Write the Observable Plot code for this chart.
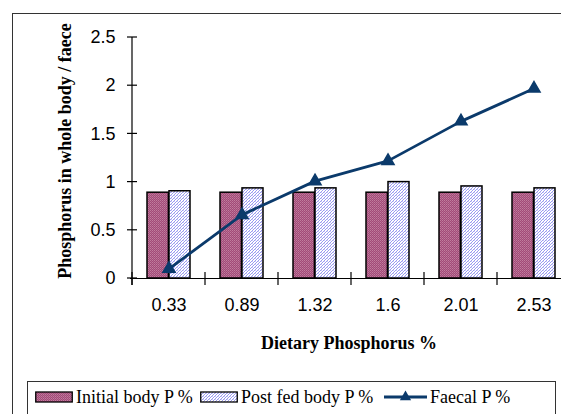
<!DOCTYPE html>
<html>
<head>
<meta charset="utf-8">
<script src="https://cdn.jsdelivr.net/npm/d3@7"></script>
<script src="https://cdn.jsdelivr.net/npm/@observablehq/plot@0.6"></script>
<style>
  html, body { margin: 0; padding: 0; background: #fff; }
  body { width: 561px; height: 414px; overflow: hidden; position: relative; }
  #frame { position: absolute; left: 12px; top: 13px; width: 620px; height: 460px; border: 1.5px solid #333; box-sizing: border-box; }
  #chart { position: absolute; left: 0; top: 0; width: 600px; }
  #chart svg { max-width: none !important; }
  .ytitle { position: absolute; left: 65px; top: 151px; transform: translate(-50%, -50%) rotate(-90deg); white-space: nowrap;
            font: bold 18px "Liberation Serif", "Times New Roman", serif; color: #000; }
  .xtitle { position: absolute; left: 349px; top: 333px; transform: translateX(-50%); white-space: nowrap;
            font: bold 18px "Liberation Serif", "Times New Roman", serif; color: #000; }
  #legend { position: absolute; left: 27px; top: 381px; width: 529px; height: 50px; border: 1px solid #333; box-sizing: border-box;
            font: 18px "Liberation Serif", "Times New Roman", serif; color: #000; }
  .item { position: absolute; top: 0; height: 30px; display: flex; align-items: center; white-space: nowrap; }
  .item svg { margin-right: 3px; }
</style>
</head>
<body>
<div id="frame"></div>
<div id="chart"></div>
<div class="ytitle">Phosphorus in whole body / faece</div>
<div class="xtitle">Dietary Phosphorus %</div>
<div id="legend"></div>
<script>
// ---- data ----
const categories = ["0.33", "0.89", "1.32", "1.6", "2.01", "2.53"];
const initialBody = [0.89, 0.89, 0.89, 0.89, 0.89, 0.89];
const postFedBody = [0.905, 0.935, 0.935, 1.0, 0.955, 0.935];
const faecal = [0.10, 0.66, 1.01, 1.22, 1.63, 1.97];
const yTicks = [0, 0.5, 1, 1.5, 2, 2.5];
const seriesNames = ["Initial body P %", "Post fed body P %", "Faecal P %"];

const rows = categories.map((c, i) => ({cat: c, init: initialBody[i], post: postFedBody[i], faecal: faecal[i]}));
const navy = "#0b3a6b";

// custom axis lines & crossing ticks drawn from the library's scales
function axesMark(index, scales) {
  const x = scales.x, y = scales.y;
  const g = d3.create("svg:g").attr("stroke", "#000").attr("stroke-width", 1.2);
  const x0 = x(categories[0]);
  const y0 = y(0);
  g.append("line").attr("x1", x0).attr("x2", x0).attr("y1", y(yTicks[yTicks.length - 1])).attr("y2", y0 + 7);
  for (const t of yTicks) g.append("line").attr("x1", x0 - 5).attr("x2", x0 + 5).attr("y1", y(t)).attr("y2", y(t));
  for (const c of categories) g.append("line").attr("x1", x(c)).attr("x2", x(c)).attr("y1", y0 - 6).attr("y2", y0 + 7);
  return g.node();
}

const chart = Plot.plot({
  width: 580,
  height: 320,
  marginLeft: 130,
  marginRight: 8,
  marginTop: 37,
  marginBottom: 42,
  style: {fontFamily: '"Liberation Sans", Arial, sans-serif', fontSize: "18px", color: "#000", background: "transparent", overflow: "visible", maxWidth: "none"},
  x: {type: "band", domain: categories, padding: 0, axis: null},
  y: {domain: [0, 2.5], axis: null},
  marks: [
    Plot.barY(rows, {x: "cat", y: "init", fill: "url(#patInit)", stroke: "#000", strokeWidth: 1.5, insetLeft: 15, insetRight: 36.6}),
    Plot.barY(rows, {x: "cat", y: "post", fill: "url(#patPost)", stroke: "#000", strokeWidth: 1.5, insetLeft: 37, insetRight: 15}),
    Plot.ruleY([0], {stroke: "#000", strokeWidth: 1.2}),
    axesMark,
    Plot.axisX({domain: categories, tickSize: 0, tickPadding: 20, fontSize: 18, label: null}),
    Plot.axisY({ticks: yTicks, tickSize: 0, tickPadding: 15, tickFormat: d => String(d), fontSize: 18, label: null}),
    Plot.line(rows, {x: "cat", y: "faecal", stroke: navy, strokeWidth: 2.8}),
    Plot.dot(rows, {x: "cat", y: "faecal", symbol: "triangle", fill: navy, stroke: navy, r: 4.5})
  ]
});

// patterns
const defs = d3.select(chart).insert("defs", ":first-child");
const p1 = defs.append("pattern").attr("id", "patInit").attr("patternUnits", "userSpaceOnUse").attr("width", 2).attr("height", 2);
p1.append("rect").attr("width", 2).attr("height", 2).attr("fill", "#a04c78");
p1.append("rect").attr("width", 1).attr("height", 1).attr("fill", "#c27c9e");
p1.append("rect").attr("x", 1).attr("y", 1).attr("width", 1).attr("height", 1).attr("fill", "#b86890");
const p2 = defs.append("pattern").attr("id", "patPost").attr("patternUnits", "userSpaceOnUse").attr("width", 3).attr("height", 3);
p2.append("rect").attr("width", 3).attr("height", 3).attr("fill", "#ffffff");
p2.append("rect").attr("x", 0).attr("y", 2).attr("width", 1).attr("height", 1).attr("fill", "#9a9af0");
p2.append("rect").attr("x", 1).attr("y", 1).attr("width", 1).attr("height", 1).attr("fill", "#9a9af0");
p2.append("rect").attr("x", 2).attr("y", 0).attr("width", 1).attr("height", 1).attr("fill", "#9a9af0");
p2.append("rect").attr("x", 0).attr("y", 0).attr("width", 1).attr("height", 1).attr("fill", "#d0d0fa");

document.getElementById("chart").appendChild(chart);

// legend
const legend = d3.select("#legend");
const lefts = [7, 172, 356];
seriesNames.forEach((name, i) => {
  const it = legend.append("div").attr("class", "item").style("left", lefts[i] + "px");
  const w = i < 2 ? 38 : 43;
  const s = it.append("svg").attr("width", w).attr("height", 14);
  if (i < 2) {
    s.append("rect").attr("x", 0.75).attr("y", 2).attr("width", 36.5).attr("height", 10)
      .attr("fill", i === 0 ? "url(#patInit)" : "url(#patPost)").attr("stroke", "#000").attr("stroke-width", 1.3);
  } else {
    s.append("line").attr("x1", 0).attr("x2", w).attr("y1", 7).attr("y2", 7).attr("stroke", navy).attr("stroke-width", 2.8);
    s.append("path").attr("d", d3.symbol(d3.symbolTriangle, 55)()).attr("transform", `translate(${w / 2},7)`).attr("fill", navy);
  }
  it.append("span").text(name);
});
</script>
</body>
</html>
